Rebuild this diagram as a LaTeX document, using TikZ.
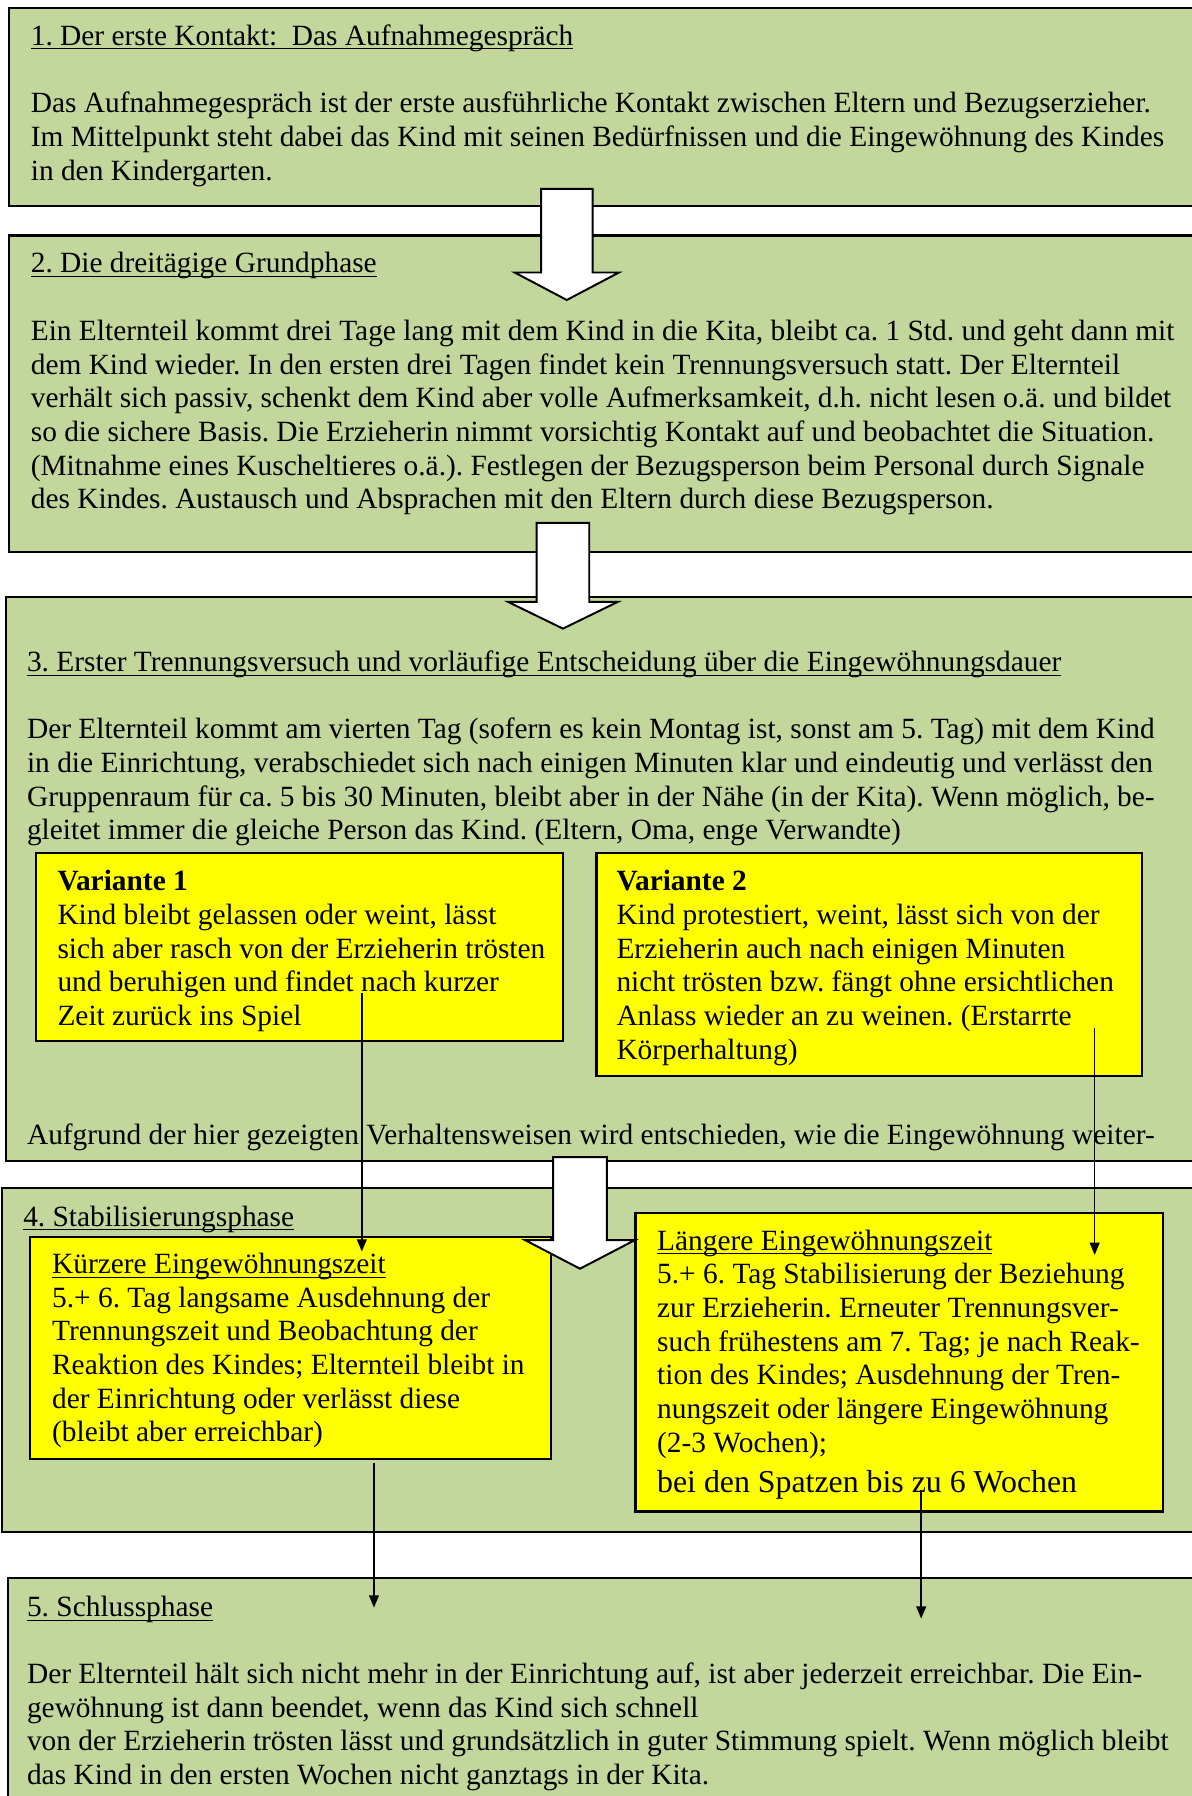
\documentclass[tikz,border=0pt]{standalone}
\usepackage{fontspec}
\setmainfont{Liberation Serif}
\usetikzlibrary{arrows.meta,fit}
\definecolor{boxgreen}{HTML}{C3D69B}
\definecolor{boxyellow}{HTML}{FFFF00}
\newcommand\ulx[1]{\underline{\smash{#1}}}
\newcommand\bodyfnt{\fontsize{12}{13.75}\selectfont\frenchspacing}
\newcommand\bigfnt{\fontsize{13}{15}\selectfont\frenchspacing}
\newcommand\tightsp{\spaceskip 0.25em\relax\xspaceskip 0.25em\relax}
\frenchspacing
\begin{document}
\begin{tikzpicture}[x=0.4677pt,y=-0.4677pt,
  greenbox/.style={draw=black,fill=boxgreen,line width=0.9pt,inner sep=0pt},
  yellowbox/.style={draw=black,fill=boxyellow,line width=0.9pt,inner sep=0pt},
  txt/.style={anchor=base west,inner sep=0pt,text width=560pt,align=left,
    font=\bodyfnt,execute at begin node={\tightsp}},
  blockarrow/.style={draw=black,fill=white,line width=0.8pt,line join=miter},
  conn/.style={-{Triangle[length=5pt,width=4pt]},line width=0.6pt,black}]
\useasboundingbox (0,0) rectangle (1041,1568.5);
\clip (0,0) rectangle (1041,1568.5);
% boxes
\node[greenbox,fit={(8,6.7) (1070,180)}] (box1) {};
\node[greenbox,fit={(8,205.6) (1070,482.3)}] (box2) {};
\node[greenbox,fit={(5.3,521.6) (1070,1014)}] (box3) {};
\node[yellowbox,fit={(31.2,745) (491.8,909)}] (var1) {};
\node[yellowbox,fit={(521,745) (997,940)}] (var2) {};
\node[greenbox,fit={(1.5,1037.5) (1070,1338)}] (box4) {};
\node[yellowbox,fit={(26.5,1080.6) (481,1274)}] (kurz) {};
\node[yellowbox,fit={(555,1059) (1016,1320)}] (lang) {};
\node[greenbox,fit={(7,1377.8) (1070,1620)}] (box5) {};
% texts
\node[txt] (t1h) at (26.5,39.4) {\ulx{1. Der erste Kontakt:\ \ Das Aufnahmegespräch}};
\node[txt] (t1b) at (26.5,98.6) {Das Aufnahmegespräch ist der erste ausführliche Kontakt zwischen Eltern und Bezugserzieher.\\
Im Mittelpunkt steht dabei das Kind mit seinen Bedürfnissen und die Eingewöhnung des Kindes\\
in den Kindergarten.};
\node[txt] (t2h) at (26.5,238.3) {\ulx{2. Die dreitägige Grundphase}};
\node[txt] (t2b) at (26.5,297.5) {Ein Elternteil kommt drei Tage lang mit dem Kind in die Kita, bleibt ca. 1 Std. und geht dann mit\\
dem Kind wieder. In den ersten drei Tagen findet kein Trennungsversuch statt. Der Elternteil\\
verhält sich passiv, schenkt dem Kind aber volle Aufmerksamkeit, d.h. nicht lesen o.ä. und bildet\\
so die sichere Basis. Die Erzieherin nimmt vorsichtig Kontakt auf und beobachtet die Situation.\\
(Mitnahme eines Kuscheltieres o.ä.). Festlegen der Bezugsperson beim Personal durch Signale\\
des Kindes. Austausch und Absprachen mit den Eltern durch diese Bezugsperson.};
\node[txt] (t3h) at (23.2,586.7) {\ulx{3. Erster Trennungsversuch und vorläufige Entscheidung über die Eingewöhnungsdauer}};
\node[txt] (t3b) at (23.2,645.2) {Der Elternteil kommt am vierten Tag (sofern es kein Montag ist, sonst am 5. Tag) mit dem Kind\\
in die Einrichtung, verabschiedet sich nach einigen Minuten klar und eindeutig und verlässt den\\
Gruppenraum für ca. 5 bis 30 Minuten, bleibt aber in der Nähe (in der Kita). Wenn möglich, be-\\
gleitet immer die gleiche Person das Kind. (Eltern, Oma, enge Verwandte)};
\node[txt] (v1t) at (49.8,778) {\textbf{Variante 1}\\
Kind bleibt gelassen oder weint, lässt\\
sich aber rasch von der Erzieherin trösten\\
und beruhigen und findet nach kurzer\\
Zeit zurück ins Spiel};
\node[txt] (v2t) at (538,778) {\textbf{Variante 2}\\
Kind protestiert, weint, lässt sich von der\\
Erzieherin auch nach einigen Minuten\\
nicht trösten bzw. fängt ohne ersichtlichen\\
Anlass wieder an zu weinen. (Erstarrte\\
Körperhaltung)};
\node[txt] (t3c) at (23.2,999.6) {Aufgrund der hier gezeigten Verhaltensweisen wird entschieden, wie die Eingewöhnung weiter-};
\node[txt] (t4h) at (19.9,1071) {\ulx{4. Stabilisierungsphase}};
\node[txt] (kt) at (45.1,1112.3) {\ulx{Kürzere Eingewöhnungszeit}\\
5.+ 6. Tag langsame Ausdehnung der\\
Trennungszeit und Beobachtung der\\
Reaktion des Kindes; Elternteil bleibt in\\
der Einrichtung oder verlässt diese\\
(bleibt aber erreichbar)};
\node[txt] (lt) at (573.5,1091.7) {\ulx{Längere Eingewöhnungszeit}\\
5.+ 6. Tag Stabilisierung der Beziehung\\
zur Erzieherin. Erneuter Trennungsver-\\
such frühestens am 7. Tag; je nach Reak-\\
tion des Kindes; Ausdehnung der Tren-\\
nungszeit oder längere Eingewöhnung\\
(2-3 Wochen);};
\node[txt,font=\bigfnt] (lt2) at (573.5,1303) {bei den Spatzen bis zu 6 Wochen};
\node[txt] (t5h) at (23.2,1412) {\ulx{5. Schlussphase}};
\node[txt] (t5b) at (23.2,1470.3) {Der Elternteil hält sich nicht mehr in der Einrichtung auf, ist aber jederzeit erreichbar. Die Ein-\\
gewöhnung ist dann beendet, wenn das Kind sich schnell\\
von der Erzieherin trösten lässt und grundsätzlich in guter Stimmung spielt. Wenn möglich bleibt\\
das Kind in den ersten Wochen nicht ganztags in der Kita.};
% block arrows
\draw[blockarrow] (472.5,165) -- (517.5,165) -- (517.5,238) -- (540.5,238) -- (495,262) -- (449.5,238) -- (472.5,238) -- cycle;
\draw[blockarrow] (468.6,456.6) -- (514.6,456.6) -- (514.6,525.6) -- (539.6,525.6) -- (491.6,549) -- (443.6,525.6) -- (468.6,525.6) -- cycle;
\draw[blockarrow] (483,1010.6) -- (530,1010.6) -- (530,1083) -- (554.5,1083) -- (506.5,1108) -- (458.5,1083) -- (483,1083) -- cycle;
% thin connectors
\coordinate (c1a) at (316,867);
\coordinate (c1b) at (316,1093);
\coordinate (c2a) at (956,897.6);
\coordinate (c2b) at (956,1096);
\coordinate (c3a) at (326.6,1278);
\coordinate (c3b) at (326.6,1404);
\coordinate (c4a) at (804.5,1301);
\coordinate (c4b) at (804.5,1413.6);
\draw[conn] (c1a) -- (c1b);
\draw[conn] (c2a) -- (c2b);
\draw[conn] (c3a) -- (c3b);
\draw[conn] (c4a) -- (c4b);
\end{tikzpicture}
\end{document}
